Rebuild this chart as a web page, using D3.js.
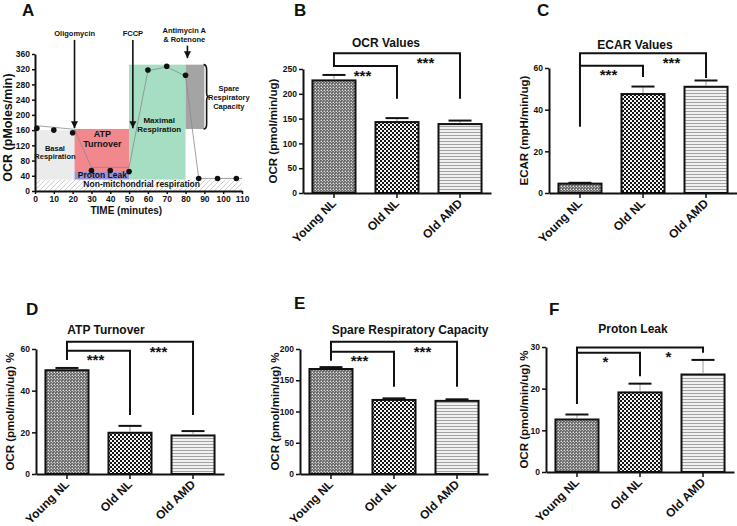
<!DOCTYPE html>
<html><head><meta charset="utf-8">
<script src="https://cdn.jsdelivr.net/npm/d3@7"></script>
<style>
body{margin:0;background:#fff}
svg{display:block}
text{font-family:"Liberation Sans",Arial,sans-serif;font-weight:bold;fill:#111}
</style></head>
<body><svg width="737" height="526"></svg>
<script>
// ---------------- DATA ----------------
const groups = ["Young NL", "Old NL", "Old AMD"];
const ocrMeans = [227, 143, 139];
const ocrSem = [11, 8, 7];
const ecarMeans = [4.5, 47.5, 51];
const ecarSem = [0.4, 3.6, 3];
const atpMeans = [49.8, 19.8, 18.5];
const atpSem = [1.1, 3.3, 2.1];
const spareMeans = [168, 118.5, 117];
const spareSem = [3, 2.5, 2.5];
const leakMeans = [12.6, 19.1, 23.4];
const leakSem = [1.2, 2.1, 3.5];

const ocrTicks = [0, 50, 100, 150, 200, 250];
const ecarTicks = [0, 20, 40, 60];
const atpTicks = [0, 20, 40, 60];
const spareTicks = [0, 50, 100, 150, 200];
const leakTicks = [0, 10, 20, 30];

// Panel A (Seahorse trace)
const timeMinutes = [1, 10, 20, 30, 40, 50, 60, 70, 80, 87, 97, 107];
const ocrTrace = [165, 160, 153, 54, 54, 51, 318, 328, 304, 33, 33, 33];
const envelopeTime = [0, 21, 30, 50, 60, 70, 80, 87, 110];
const envelopeOcr = [172, 162, 62, 62, 316, 326, 302, 33, 33];
const timeTicks = [0, 10, 20, 30, 40, 50, 60, 70, 80, 90, 100, 110];
const ocrATicks = [0, 40, 80, 120, 160, 200, 240, 280, 320, 360];
const regionNames = ["Non-mitochondrial", "Basal", "ATP Turnover", "Proton Leak", "Maximal", "Spare"];
const regionT0 = [0, 0, 21, 21, 50, 80];
const regionT1 = [110, 21, 50, 50, 80, 90];
const regionV0 = [0, 30, 50, 30, 30, 163];
const regionV1 = [30, 160, 163, 50, 332, 332];
const injectionNames = ["Oligomycin", "FCCP", "Antimycin A"];
const injectionTime = [21, 52, 81];

// ---------------- SETUP ----------------
const svg = d3.select("svg");
const defs = svg.append("defs");
function pattern(id, w, h) {
  return defs.append("pattern").attr("id", id).attr("patternUnits", "userSpaceOnUse")
    .attr("width", w).attr("height", h);
}
let p = pattern("pYoung", 3, 3);
p.append("rect").attr("width", 3).attr("height", 3).attr("fill", "#6a6a6a");
p.append("rect").attr("width", 1).attr("height", 1).attr("fill", "#e0e0e0");
p.append("rect").attr("x", 1).attr("y", 1).attr("width", 1).attr("height", 1).attr("fill", "#bdbdbd");
p.append("rect").attr("x", 2).attr("y", 0).attr("width", 1).attr("height", 1).attr("fill", "#9a9a9a");
p.append("rect").attr("x", 0).attr("y", 2).attr("width", 1).attr("height", 1).attr("fill", "#9a9a9a");
p = pattern("pOld", 4, 4);
p.append("rect").attr("width", 4).attr("height", 4).attr("fill", "#f4f4f4");
p.append("rect").attr("width", 2).attr("height", 2).attr("fill", "#151515");
p.append("rect").attr("x", 2).attr("y", 2).attr("width", 2).attr("height", 2).attr("fill", "#151515");
p = pattern("pAmd", 3, 3);
p.append("rect").attr("width", 3).attr("height", 3).attr("fill", "#f1f1f1");
p.append("rect").attr("width", 3).attr("height", 1).attr("fill", "#a2a2a2");
p = pattern("pHatch", 5, 5);
p.append("rect").attr("width", 5).attr("height", 5).attr("fill", "#fff");
p.append("path").attr("d", "M-1,1 L1,-1 M0,5 L5,0 M4,6 L6,4").attr("stroke", "#c4c4c4").attr("stroke-width", 0.8);
defs.append("marker").attr("id", "arr").attr("viewBox", "0 0 10 10").attr("refX", 10).attr("refY", 5)
  .attr("markerUnits", "userSpaceOnUse").attr("markerWidth", 7).attr("markerHeight", 9).attr("orient", "auto")
  .append("path").attr("d", "M0,0 L10,5 L0,10 z").attr("fill", "#111");

const fills = ["url(#pYoung)", "url(#pOld)", "url(#pAmd)"];

function styleAxis(g, w) {
  g.select(".domain").attr("stroke", "#111").attr("stroke-width", w);
  g.selectAll(".tick line").attr("stroke", "#111").attr("stroke-width", 1.5);
}

// ---------------- PANEL A ----------------
(function () {
  const x = d3.scaleLinear().domain([0, 110]).range([35, 242]);
  const y = d3.scaleLinear().domain([0, 360]).range([191, 54]);
  const g = svg.append("g");
  const regionFills = ["url(#pHatch)", "#ebebeb", "#f1888e", "#9b93d6", "#a6dec4", "#a4a4a4"];
  g.selectAll("rect.reg").data(regionNames).join("rect").attr("class", "reg")
    .attr("x", (d, i) => x(regionT0[i])).attr("width", (d, i) => x(regionT1[i]) - x(regionT0[i]))
    .attr("y", (d, i) => y(regionV1[i])).attr("height", (d, i) => y(regionV0[i]) - y(regionV1[i]))
    .attr("fill", (d, i) => regionFills[i]);
  // envelope line
  g.append("path").datum(envelopeTime.map((t, i) => [t, envelopeOcr[i]]))
    .attr("d", d3.line().x(d => x(d[0])).y(d => y(d[1])))
    .attr("fill", "none").attr("stroke", "#8a8a8a").attr("stroke-width", 0.8);
  g.selectAll("circle").data(timeMinutes).join("circle")
    .attr("cx", d => x(d)).attr("cy", (d, i) => y(ocrTrace[i])).attr("r", 2.8).attr("fill", "#111");
  // axes
  const ya = g.append("g").attr("transform", "translate(35,0)")
    .call(d3.axisLeft(y).tickValues(ocrATicks).tickSize(3).tickSizeOuter(0).tickPadding(2));
  styleAxis(ya, 2);
  ya.selectAll("text").attr("font-size", 8.5).attr("font-weight", "bold").style("font-family", "Liberation Sans, Arial").attr("fill", "#222");
  const xa = g.append("g").attr("transform", "translate(0,191)")
    .call(d3.axisBottom(x).tickValues(timeTicks).tickSize(3).tickSizeOuter(0).tickPadding(2));
  styleAxis(xa, 2);
  xa.selectAll("text").attr("font-size", 8.5).attr("font-weight", "normal").style("font-family", "Liberation Sans, Arial").attr("fill", "#222");
  g.append("text").attr("x", x(48.5)).attr("y", 214).attr("text-anchor", "middle").attr("font-size", 10).text("TIME (minutes)");
  g.append("text").attr("transform", `translate(12,${(y(0) + y(360)) / 2 + 5}) rotate(-90)`).attr("text-anchor", "middle")
    .attr("font-size", 12.5).text("OCR (pMoles/min)");
  // region labels
  const lab = (t, tx, ty, fs) => g.append("text").attr("x", x(tx)).attr("y", y(ty)).attr("text-anchor", "middle").attr("font-size", fs).text(t);
  lab("Basal", 10.6, 105, 7.5); lab("Respiration", 10.6, 84, 7.5);
  lab("ATP", 35.8, 142.5, 9); lab("Turnover", 35.8, 116.5, 9);
  lab("Proton Leak", 35.8, 35, 8.5);
  lab("Maximal", 66, 179, 8); lab("Respiration", 66, 156, 8);
  lab("Non-mitchondrial respiration", 56.7, 11.3, 8.5);
  lab("Spare", 103, 264, 7.5); lab("Respiratory", 103, 240, 7.5); lab("Capacity", 103, 215, 7.5);
  // injections
  lab("Oligomycin", 21.1, 407, 7.5);
  lab("FCCP", 52, 407, 7.5);
  lab("Antimycin A", 79.3, 416, 7.5);
  lab("& Rotenone", 79.3, 392, 7.5);
  const arrowTop = [397, 397, 382];
  const arrowEnd = [165, 165, 349];
  g.selectAll("line.inj").data(injectionNames).join("line").attr("class", "inj")
    .attr("x1", (d, i) => x(injectionTime[i])).attr("x2", (d, i) => x(injectionTime[i]))
    .attr("y1", (d, i) => y(arrowTop[i])).attr("y2", (d, i) => y(arrowEnd[i]))
    .attr("stroke", "#111").attr("stroke-width", 1.6).attr("marker-end", "url(#arr)");
  // brace
  const bx0 = x(89.6), bx1 = x(91.2), tip = x(92.3), yt = y(332), yb = y(163), ym = (yt + yb) / 2;
  g.append("path").attr("d",
    `M${bx0},${yt} Q${bx1},${yt} ${bx1},${yt + 5} L${bx1},${ym - 4} Q${bx1},${ym} ${tip},${ym} Q${bx1},${ym} ${bx1},${ym + 4} L${bx1},${yb - 5} Q${bx1},${yb} ${bx0},${yb}`)
    .attr("fill", "none").attr("stroke", "#111").attr("stroke-width", 1.6);
  svg.append("text").attr("x", 22).attr("y", 16).attr("font-size", 17).text("A");
})();

// ---------------- BAR PANELS ----------------
const panels = [
  { letter: "B", lx: 294, ly: 16, title: "OCR Values", tx: 386, ty: 47, ylab: "OCR (pmol/min/ug)", ylx: 273,
    means: ocrMeans, sem: ocrSem, ticks: ocrTicks, max: 250, ax: 303, ay: 193, top: 69, stars: "***",
    br: { outer: 282, inner: 256, left: 254, rInner: 190, rOuter: 190 } },
  { letter: "C", lx: 537, ly: 16, title: "ECAR Values", tx: 635, ty: 49, ylab: "ECAR (mpH/min/ug)", ylx: 524,
    means: ecarMeans, sem: ecarSem, ticks: ecarTicks, max: 60, ax: 549, ay: 193, top: 68, stars: "***",
    br: { outer: 67.1, inner: 61.1, left: 31.8, rInner: 55.7, rOuter: 55.2 } },
  { letter: "D", lx: 26, ly: 315, title: "ATP Turnover", tx: 106, ty: 334, ylab: "OCR (pmol/min/ug) %", ylx: 10,
    means: atpMeans, sem: atpSem, ticks: atpTicks, max: 60, ax: 36, ay: 474, top: 349, stars: "***",
    br: { outer: 63.5, inner: 59.2, left: 54.7, rInner: 28.3, rOuter: 28.3 } },
  { letter: "E", lx: 294, ly: 309, title: "Spare Respiratory Capacity", tx: 410, ty: 334, ylab: "OCR (pmol/min/ug) %", ylx: 275,
    means: spareMeans, sem: spareSem, ticks: spareTicks, max: 200, ax: 300, ay: 474, top: 349, stars: "***",
    br: { outer: 211.7, inner: 195.7, left: 181.3, rInner: 139.7, rOuter: 139.7 } },
  { letter: "F", lx: 549, ly: 315, title: "Proton Leak", tx: 633, ty: 333, ylab: "OCR (pmol/min/ug) %", ylx: 524,
    means: leakMeans, sem: leakSem, ticks: leakTicks, max: 30, ax: 546, ay: 472, top: 347, stars: "*",
    br: { outer: 29.9, inner: 28.6, left: 16.3, rInner: 23, rOuter: 28.6 } }
];

panels.forEach(P => {
  const g = svg.append("g");
  const W = 188;
  const x = d3.scaleBand().domain(groups).range([P.ax, P.ax + W]).paddingInner(0.317).paddingOuter(0.15);
  const y = d3.scaleLinear().domain([0, P.max]).range([P.ay, P.top]);
  const c = d => x(d) + x.bandwidth() / 2;
  // bars
  g.selectAll("rect.bar").data(groups).join("rect").attr("class", "bar")
    .attr("x", d => x(d)).attr("width", x.bandwidth())
    .attr("y", (d, i) => y(P.means[i])).attr("height", (d, i) => y(0) - y(P.means[i]))
    .attr("fill", (d, i) => fills[i]).attr("stroke", "#111").attr("stroke-width", 2);
  // error bars
  g.selectAll("line.ev").data(groups).join("line").attr("class", "ev")
    .attr("x1", c).attr("x2", c).attr("y1", (d, i) => y(P.means[i]) - 1).attr("y2", (d, i) => y(P.means[i] + P.sem[i]))
    .attr("stroke", "#9a9a9a").attr("stroke-width", 1);
  g.selectAll("line.ec").data(groups).join("line").attr("class", "ec")
    .attr("x1", d => c(d) - 11.5).attr("x2", d => c(d) + 11.5)
    .attr("y1", (d, i) => y(P.means[i] + P.sem[i])).attr("y2", (d, i) => y(P.means[i] + P.sem[i]))
    .attr("stroke", "#111").attr("stroke-width", 2);
  // axes
  const ya = g.append("g").attr("transform", `translate(${P.ax},0)`)
    .call(d3.axisLeft(y).tickValues(P.ticks).tickSize(4).tickSizeOuter(0).tickPadding(2));
  styleAxis(ya, 2);
  ya.selectAll("text").attr("font-size", 8.5).attr("font-weight", "bold").style("font-family", "Liberation Sans, Arial").attr("fill", "#222");
  const xa = g.append("g").attr("transform", `translate(0,${P.ay})`)
    .call(d3.axisBottom(x).tickSize(5).tickSizeOuter(0));
  styleAxis(xa, 2);
  xa.selectAll("text").attr("font-size", 12).attr("font-weight", "bold").style("font-family", "Liberation Sans, Arial").attr("fill", "#111")
    .attr("text-anchor", "end").attr("dy", null).attr("y", null)
    .attr("transform", "translate(3,11) rotate(-45)");
  // brackets
  const [g0, g1, g2] = groups;
  g.append("path").attr("d",
    `M${c(g0)},${y(P.br.left)} L${c(g0)},${y(P.br.outer)} L${c(g2)},${y(P.br.outer)} L${c(g2)},${y(P.br.rOuter)}`)
    .attr("fill", "none").attr("stroke", "#111").attr("stroke-width", 2);
  g.append("path").attr("d",
    `M${c(g0)},${y(P.br.inner)} L${c(g1)},${y(P.br.inner)} L${c(g1)},${y(P.br.rInner)}`)
    .attr("fill", "none").attr("stroke", "#111").attr("stroke-width", 2);
  g.append("text").attr("x", (c(g0) + c(g1)) / 2 - 3).attr("y", y(P.br.inner) + 14.5).attr("text-anchor", "middle")
    .attr("font-size", 15).text(P.stars);
  g.append("text").attr("x", (c(g1) + c(g2)) / 2 - 3).attr("y", y(P.br.outer) + 15).attr("text-anchor", "middle")
    .attr("font-size", 15).text(P.stars);
  // texts
  g.append("text").attr("x", P.tx).attr("y", P.ty).attr("text-anchor", "middle").attr("font-size", 12).text(P.title);
  g.append("text").attr("transform", `translate(${P.ylx + 4},${(P.ay + P.top) / 2}) rotate(-90)`)
    .attr("text-anchor", "middle").attr("font-size", 11.5).text(P.ylab);
  svg.append("text").attr("x", P.lx).attr("y", P.ly).attr("font-size", 17).text(P.letter);
});
</script>
</body></html>
